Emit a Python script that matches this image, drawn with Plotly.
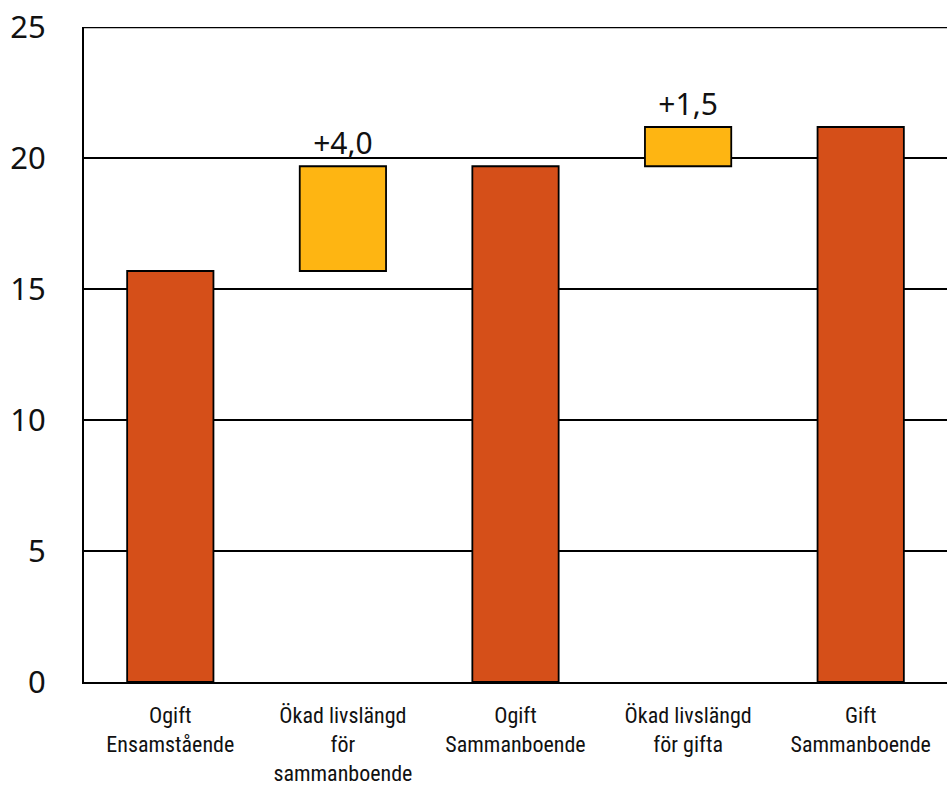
import plotly.graph_objects as go

# Waterfall steps: starting level, increase, subtotal, increase, total
categories = [
    "Ogift<br>Ensamstående",
    "Ökad livslängd<br>för<br>sammanboende",
    "Ogift<br>Sammanboende",
    "Ökad livslängd<br>för gifta",
    "Gift<br>Sammanboende",
]
measures = ["absolute", "relative", "total", "relative", "total"]
values = [15.7, 4.0, 0, 1.5, 0]

y_ticks = [0, 5, 10, 15, 20, 25]

ORANGE = "#D54F19"
YELLOW = "#FEB512"

labels = [
    ("+" + f"{v:.1f}".replace(".", ",")) if m == "relative" else ""
    for v, m in zip(values, measures)
]

fig = go.Figure(
    go.Waterfall(
        x=categories,
        y=values,
        measure=measures,
        text=labels,
        textposition="outside",
        textfont=dict(size=30, color="#111111", family="Noto Sans, DejaVu Sans"),
        cliponaxis=False,
        increasing=dict(marker=dict(color=YELLOW, line=dict(color="black", width=1.8))),
        decreasing=dict(marker=dict(color=YELLOW, line=dict(color="black", width=1.8))),
        totals=dict(marker=dict(color=ORANGE, line=dict(color="black", width=1.8))),
        connector=dict(visible=False),
        width=0.5,
    )
)

fig.update_layout(
    width=952,
    height=796,
    margin=dict(l=84, r=5, t=27, b=114),
    paper_bgcolor="white",
    plot_bgcolor="white",
    showlegend=False,
    separators=", ",
    font=dict(family="Noto Sans, DejaVu Sans", color="#111111"),
)

# Frame line along the top of the value range
fig.add_shape(
    type="line",
    xref="paper", x0=0, x1=1,
    yref="y", y0=y_ticks[-1], y1=y_ticks[-1],
    line=dict(color="black", width=1.6),
    layer="below",
)

fig.update_yaxes(
    range=[0, 25.02],
    tickvals=y_ticks,
    ticktext=[str(t) for t in y_ticks],
    tickfont=dict(size=31, family="Noto Sans, DejaVu Sans", color="#111111"),
    showgrid=True,
    gridcolor="black",
    gridwidth=1.6,
    showline=True,
    linecolor="black",
    linewidth=2,
    zeroline=False,
    ticks="",
    ticklabelstandoff=30,
)

fig.update_xaxes(
    tickfont=dict(size=22, family="Roboto Condensed, Liberation Sans Narrow, Roboto", color="#111111"),
    showline=True,
    linecolor="black",
    linewidth=2,
    ticks="",
    tickangle=0,
    ticklabelstandoff=13,
)

fig.write_html("out.html")
